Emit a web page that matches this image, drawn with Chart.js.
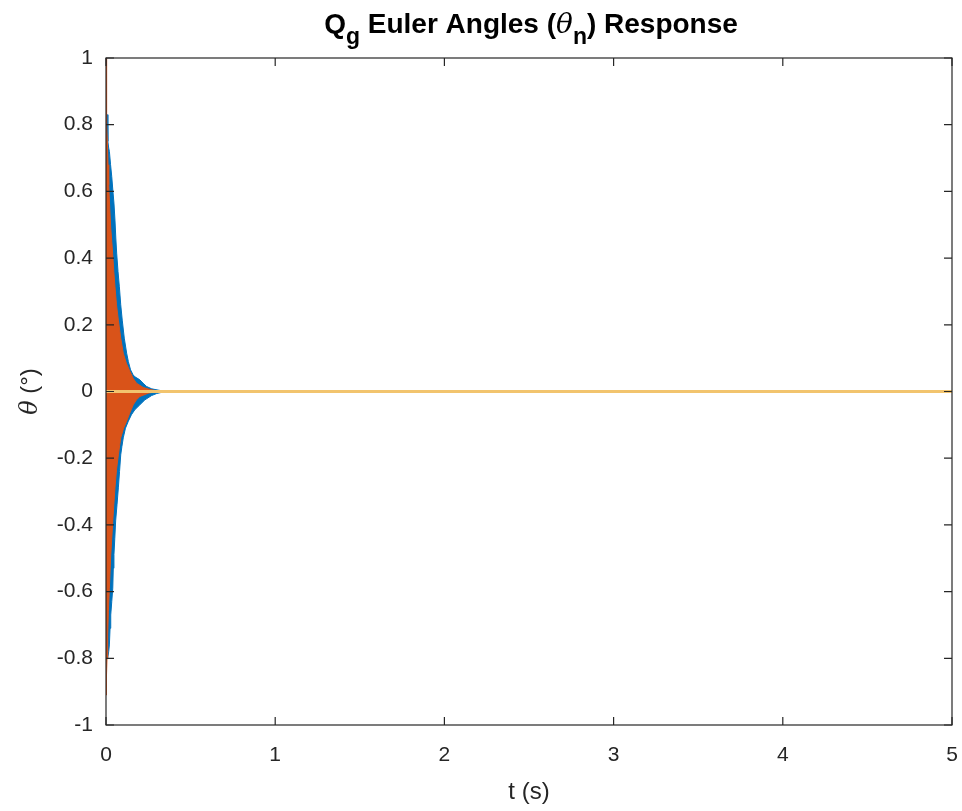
<!DOCTYPE html>
<html>
<head>
<meta charset="utf-8">
<title>Qg Euler Angles Response</title>
<script src="https://cdn.jsdelivr.net/npm/chart.js@4.4.1/dist/chart.umd.min.js"></script>
<style>
  html, body { margin: 0; padding: 0; background: #ffffff; }
  canvas { display: block; }
</style>
</head>
<body>
<canvas id="c" width="962" height="811"></canvas>
<script>
// Oscillation envelopes of the three angle components (time in s, angle in deg).
// Each component rings at high frequency, so it is drawn as the band between
// its upper and lower peak envelopes.
const comp1HiT = [0, 0.008, 0.011, 0.016, 0.02, 0.027, 0.034, 0.041, 0.047, 0.053, 0.058, 0.063, 0.071, 0.079, 0.087, 0.096, 0.108, 0.122, 0.132, 0.145, 0.16, 0.171, 0.2, 0.219, 0.24, 0.27, 0.32, 0.4, 5];
const comp1HiV = [0.83, 0.83, 0.75, 0.73, 0.72, 0.68, 0.644, 0.60, 0.565, 0.514, 0.46, 0.415, 0.36, 0.314, 0.26, 0.214, 0.16, 0.115, 0.09, 0.065, 0.05, 0.044, 0.035, 0.025, 0.015, 0.008, 0.003, 0, 0];
const comp1LoT = [0, 0.01, 0.016, 0.02, 0.024, 0.028, 0.034, 0.04, 0.043, 0.047, 0.052, 0.057, 0.065, 0.073, 0.08, 0.087, 0.094, 0.102, 0.115, 0.132, 0.15, 0.17, 0.2, 0.23, 0.27, 0.3, 0.35, 5];
const comp1LoV = [-0.80, -0.80, -0.78, -0.76, -0.71, -0.67, -0.63, -0.59, -0.53, -0.489, -0.44, -0.388, -0.34, -0.289, -0.24, -0.19, -0.165, -0.139, -0.11, -0.089, -0.07, -0.055, -0.04, -0.025, -0.012, -0.006, 0, 0];

const comp2HiT = [0, 0.002, 0.005, 0.008, 0.012, 0.016, 0.022, 0.028, 0.034, 0.039, 0.046, 0.053, 0.062, 0.073, 0.087, 0.102, 0.12, 0.138, 0.16, 0.18, 0.22, 0.26, 0.3, 0.35, 5];
const comp2HiV = [1.0, 0.88, 0.80, 0.75, 0.68, 0.62, 0.55, 0.49, 0.45, 0.415, 0.36, 0.314, 0.26, 0.214, 0.16, 0.115, 0.085, 0.064, 0.04, 0.025, 0.012, 0.006, 0.002, 0, 0];
const comp2LoT = [0, 0.003, 0.006, 0.01, 0.014, 0.02, 0.028, 0.034, 0.04, 0.046, 0.053, 0.062, 0.073, 0.087, 0.104, 0.122, 0.14, 0.161, 0.18, 0.2, 0.25, 0.3, 5];
const comp2LoV = [-0.91, -0.85, -0.80, -0.73, -0.66, -0.59, -0.49, -0.44, -0.388, -0.34, -0.289, -0.235, -0.19, -0.139, -0.11, -0.089, -0.065, -0.04, -0.025, -0.015, -0.005, 0, 0];

const comp3T = [0, 5];
const comp3V = [0, 0];

// Axis ticks
const xTicks = [0, 1, 2, 3, 4, 5];
const yTicks = [1, 0.8, 0.6, 0.4, 0.2, 0, -0.2, -0.4, -0.6, -0.8, -1];

const C_BLUE = '#0072BD';
const C_ORANGE = '#D95319';
const C_YELLOW = '#F2C46E';
const AXIS = '#262626';
const FONT = '"Liberation Sans", Arial, Helvetica, sans-serif';

function pts(ts, vs) { return ts.map((t, i) => ({ x: t, y: vs[i] })); }

function band(ts, vs, color, order) {
  return {
    data: pts(ts, vs),
    borderColor: color,
    backgroundColor: color,
    borderWidth: 1,
    pointRadius: 0,
    tension: 0,
    fill: 'origin',
    order: order
  };
}

// Box around the plot area with inward ticks on all four sides
const boxAndTicks = {
  id: 'boxAndTicks',
  afterDraw(chart) {
    const { ctx, chartArea: a } = chart;
    const xs = chart.scales.x, ys = chart.scales.y;
    const len = 8;
    ctx.save();
    ctx.strokeStyle = AXIS;
    ctx.lineWidth = 1.2;
    ctx.strokeRect(a.left, a.top, a.right - a.left, a.bottom - a.top);
    ctx.beginPath();
    xs.ticks.forEach(tk => {
      const px = xs.getPixelForValue(tk.value);
      ctx.moveTo(px, a.bottom); ctx.lineTo(px, a.bottom - len);
      ctx.moveTo(px, a.top); ctx.lineTo(px, a.top + len);
    });
    ys.ticks.forEach(tk => {
      const py = ys.getPixelForValue(tk.value);
      ctx.moveTo(a.left, py); ctx.lineTo(a.left + len, py);
      ctx.moveTo(a.right, py); ctx.lineTo(a.right - len, py);
    });
    ctx.stroke();
    ctx.restore();
  }
};

// Title with subscripts, and the y-axis label with an italic theta
const labels = {
  id: 'labels',
  afterDraw(chart) {
    const { ctx, chartArea: a } = chart;
    ctx.save();
    ctx.fillStyle = '#000000';
    ctx.textBaseline = 'alphabetic';
    const main = 'bold 28px ' + FONT;
    const sub = 'bold 23px ' + FONT;
    const ital = 'italic 28px "DejaVu Serif", "Liberation Serif", serif';
    const parts = [
      { t: 'Q', f: main, dy: 0 },
      { t: 'g', f: sub, dy: 11 },
      { t: ' Euler Angles (', f: main, dy: 0 },
      { t: '\u03B8', f: ital, dy: 0 },
      { t: 'n', f: sub, dy: 11 },
      { t: ') Response', f: main, dy: 0 }
    ];
    let total = 0;
    parts.forEach(p => { ctx.font = p.f; p.w = ctx.measureText(p.t).width; total += p.w; });
    let x = (a.left + a.right) / 2 - total / 2 + 2;
    const base = 33;
    parts.forEach(p => { ctx.font = p.f; ctx.fillText(p.t, x, base + p.dy); x += p.w; });

    // y label
    ctx.fillStyle = AXIS;
    const yl = [
      { t: '\u03B8', f: 'italic 24px "DejaVu Serif", "Liberation Serif", serif' },
      { t: ' (\u00B0)', f: '24px ' + FONT }
    ];
    let tw = 0;
    yl.forEach(p => { ctx.font = p.f; p.w = ctx.measureText(p.t).width; tw += p.w; });
    ctx.translate(37, (a.top + a.bottom) / 2);
    ctx.rotate(-Math.PI / 2);
    let lx = -tw / 2;
    yl.forEach(p => { ctx.font = p.f; ctx.fillText(p.t, lx, 0); lx += p.w; });
    ctx.restore();
  }
};

new Chart(document.getElementById('c'), {
  type: 'line',
  data: {
    datasets: [
      { data: pts(comp3T, comp3V), borderColor: C_YELLOW, borderWidth: 3, pointRadius: 0, fill: false, order: 0 },
      band(comp2HiT, comp2HiV, C_ORANGE, 1),
      band(comp2LoT, comp2LoV, C_ORANGE, 1),
      band(comp1HiT, comp1HiV, C_BLUE, 2),
      band(comp1LoT, comp1LoV, C_BLUE, 2)
    ]
  },
  options: {
    responsive: false,
    animation: false,
    events: [],
    layout: { padding: { top: 58, right: 10, left: 0, bottom: 0 } },
    plugins: { legend: { display: false }, tooltip: { enabled: false }, title: { display: false } },
    scales: {
      x: {
        type: 'linear',
        min: 0, max: 5,
        grid: { display: false, drawTicks: false },
        border: { display: false },
        afterBuildTicks(s) { s.ticks = xTicks.map(v => ({ value: v })); },
        afterFit(s) { s.height = 86; s.paddingLeft = 0; s.paddingRight = 0; },
        ticks: {
          color: AXIS,
          font: { family: FONT, size: 21 },
          padding: 18,
          maxRotation: 0,
          callback: v => String(v)
        },
        title: {
          display: true,
          text: 't (s)',
          color: AXIS,
          font: { family: FONT, size: 24 },
          padding: { top: 0, bottom: 4 }
        }
      },
      y: {
        type: 'linear',
        min: -1, max: 1,
        grid: { display: false, drawTicks: false },
        border: { display: false },
        afterBuildTicks(s) { s.ticks = yTicks.map(v => ({ value: v })); },
        afterFit(s) { s.width = 106; s.paddingTop = 0; s.paddingBottom = 0; },
        ticks: {
          color: AXIS,
          font: { family: FONT, size: 21 },
          padding: 13,
          callback: v => String(Math.round(v * 10) / 10)
        }
      }
    }
  },
  plugins: [boxAndTicks, labels]
});
</script>
</body>
</html>
